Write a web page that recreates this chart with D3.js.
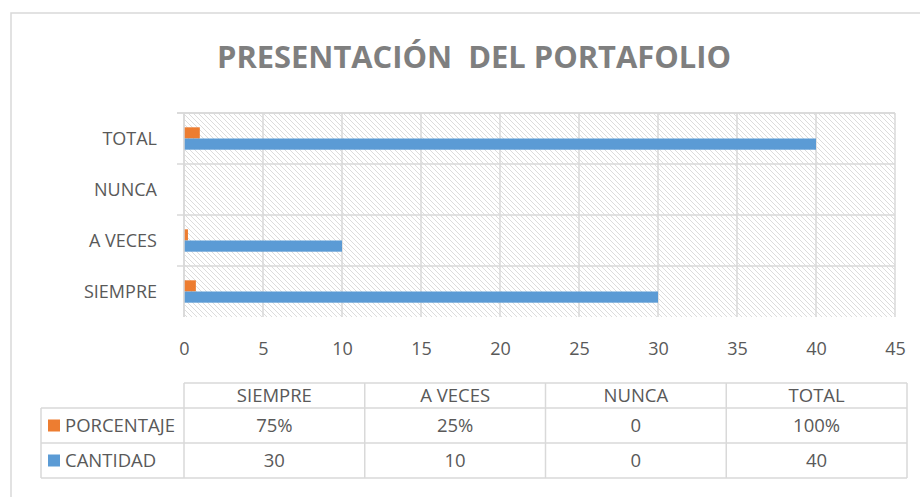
<!DOCTYPE html>
<html>

<head>
    <title>PRESENTACIÓN DEL PORTAFOLIO</title>
    <style>
        * {
            margin: 0;
            padding: 0;
        }

        body {
            background-color: #fff;
        }

        text {
            font-family: "Open Sans", "Noto Sans", sans-serif;
            fill: #595959;
        }
    </style>
    <script src="https://cdn.jsdelivr.net/npm/d3@7/dist/d3.min.js" type="text/javascript"></script>
</head>

<body>
    <div id="root"></div>

    <script>
        var categories = ["SIEMPRE", "A VECES", "NUNCA", "TOTAL"];
        var seriesNames = ["PORCENTAJE", "CANTIDAD"];
        var porcentaje = [0.75, 0.25, 0, 1];
        var cantidad = [30, 10, 0, 40];
        var porcentajeLabels = ["75%", "25%", "0", "100%"];
        var cantidadLabels = ["30", "10", "0", "40"];
        var xTicks = [0, 5, 10, 15, 20, 25, 30, 35, 40, 45];

        render("#root");

        function render(root) {
            var width = 920;
            var height = 497;
            var plot = { left: 184, right: 895, top: 113, bottom: 317 };
            var gridColor = "#d9d9d9";
            var colors = { PORCENTAJE: "#ed7d31", CANTIDAD: "#5b9bd5" };

            var svg = d3.select(root).append("svg").attr("width", width).attr("height", height);

            // hatch fill of the plot area
            var pattern = svg.append("defs").append("pattern")
                .attr("id", "hatch")
                .attr("patternUnits", "userSpaceOnUse")
                .attr("width", 5)
                .attr("height", 5);
            pattern.append("path")
                .attr("d", "M0,0 L5,5 M-1,4 L1,6 M4,-1 L6,1")
                .attr("stroke", "#dcdcdc")
                .attr("stroke-width", 1);

            // chart frame
            svg.append("rect")
                .attr("x", 11).attr("y", 13)
                .attr("width", 930).attr("height", 500)
                .attr("fill", "none")
                .attr("stroke", gridColor)
                .attr("stroke-width", 1.5);

            svg.append("text")
                .attr("x", 217)
                .attr("y", 68)
                .attr("textLength", 514)
                .attr("lengthAdjust", "spacingAndGlyphs")
                .style("font-size", "31px")
                .style("font-weight", "bold")
                .style("fill", "#7f7f7f")
                .text("PRESENTACIÓN  DEL PORTAFOLIO")
                .attr("xml:space", "preserve");

            var x = d3.scaleLinear().domain([0, 45]).range([plot.left, plot.right]);
            var y = d3.scaleBand().domain(categories).range([plot.bottom, plot.top]);
            var ySeries = d3.scaleBand().domain(seriesNames).range([0, y.bandwidth()]).paddingInner(0).paddingOuter(1.28);

            svg.append("rect")
                .attr("x", plot.left).attr("y", plot.top)
                .attr("width", plot.right - plot.left)
                .attr("height", plot.bottom - plot.top)
                .attr("fill", "url(#hatch)");

            function renderGrid() {
                var g = svg.append("g").attr("class", "grid");
                g.selectAll("line.v").data(xTicks).enter()
                    .append("line").attr("class", "v")
                    .attr("x1", function (d) { return x(d); })
                    .attr("x2", function (d) { return x(d); })
                    .attr("y1", plot.top)
                    .attr("y2", plot.bottom)
                    .attr("stroke", gridColor)
                    .attr("stroke-width", 1.5);

                var edges = categories.map(function (c) { return y(c); }).concat([plot.top]);
                g.selectAll("line.h").data(edges).enter()
                    .append("line").attr("class", "h")
                    .attr("x1", plot.left - 7)
                    .attr("x2", plot.right)
                    .attr("y1", function (d) { return d; })
                    .attr("y2", function (d) { return d; })
                    .attr("stroke", gridColor)
                    .attr("stroke-width", 1.5);
            }

            function renderXAxis() {
                var xAxis = d3.axisBottom(x).tickValues(xTicks).tickSize(0).tickPadding(0);
                var g = svg.append("g").attr("class", "x-axis")
                    .attr("transform", "translate(0, 349)")
                    .call(xAxis);
                g.select(".domain").remove();
                g.selectAll("text")
                    .attr("y", 0)
                    .attr("dy", "0.36em")
                    .attr("fill", null)
                    .style("font-size", "18px");
            }

            function renderYAxis() {
                var yAxis = d3.axisLeft(y).tickSize(0).tickPadding(27);
                var g = svg.append("g").attr("class", "y-axis")
                    .attr("transform", "translate(" + plot.left + ", 0)")
                    .call(yAxis);
                g.select(".domain").remove();
                g.selectAll("text")
                    .attr("fill", null)
                    .attr("dy", "0.36em")
                    .style("font-size", "18px");
            }

            function renderBars() {
                var rows = categories.map(function (c, i) {
                    return { category: c, PORCENTAJE: porcentaje[i], CANTIDAD: cantidad[i] };
                });
                var groups = svg.append("g").attr("class", "bars")
                    .selectAll("g").data(rows).enter()
                    .append("g")
                    .attr("transform", function (d) { return "translate(0," + y(d.category) + ")"; });

                groups.selectAll("rect")
                    .data(function (d) {
                        return seriesNames.map(function (s) { return { key: s, value: d[s] }; });
                    })
                    .enter().append("rect")
                    .attr("x", x(0))
                    .attr("y", function (d) { return ySeries(d.key); })
                    .attr("width", function (d) { return x(d.value) - x(0); })
                    .attr("height", ySeries.bandwidth())
                    .attr("fill", function (d) { return colors[d.key]; });

                // left axis line
                svg.append("line")
                    .attr("x1", plot.left).attr("x2", plot.left)
                    .attr("y1", plot.top).attr("y2", plot.bottom)
                    .attr("stroke", gridColor)
                    .attr("stroke-width", 1.5);
            }

            function renderTable() {
                var col = d3.scaleBand().domain(categories).range([184, 907]);
                var rowTop = [383, 408, 443, 478];
                var legendLeft = 41;
                var g = svg.append("g").attr("class", "data-table");

                var lines = [
                    [col.range()[0], rowTop[0], col.range()[1], rowTop[0]],
                    [legendLeft, rowTop[1], col.range()[1], rowTop[1]],
                    [legendLeft, rowTop[2], col.range()[1], rowTop[2]],
                    [legendLeft, rowTop[3], col.range()[1], rowTop[3]],
                    [legendLeft, rowTop[1], legendLeft, rowTop[3]],
                    [col.range()[1], rowTop[0], col.range()[1], rowTop[3]]
                ];
                categories.forEach(function (c) {
                    lines.push([col(c), rowTop[0], col(c), rowTop[3]]);
                });
                g.selectAll("line").data(lines).enter().append("line")
                    .attr("x1", function (d) { return d[0]; })
                    .attr("y1", function (d) { return d[1]; })
                    .attr("x2", function (d) { return d[2]; })
                    .attr("y2", function (d) { return d[3]; })
                    .attr("stroke", gridColor)
                    .attr("stroke-width", 1.5);

                var rowsText = [categories, porcentajeLabels, cantidadLabels];
                rowsText.forEach(function (row, r) {
                    var cy = (rowTop[r] + rowTop[r + 1]) / 2;
                    g.selectAll("text.r" + r).data(row).enter().append("text")
                        .attr("class", "r" + r)
                        .attr("x", function (d, i) { return col(categories[i]) + col.bandwidth() / 2; })
                        .attr("y", cy)
                        .attr("dy", "0.36em")
                        .attr("text-anchor", "middle")
                        .style("font-size", "18.5px")
                        .text(function (d) { return d; });
                });

                seriesNames.forEach(function (s, i) {
                    var cy = (rowTop[i + 1] + rowTop[i + 2]) / 2;
                    g.append("rect")
                        .attr("x", 48).attr("y", cy - 6)
                        .attr("width", 12).attr("height", 12)
                        .attr("fill", colors[s]);
                    g.append("text")
                        .attr("x", 65).attr("y", cy)
                        .attr("dy", "0.36em")
                        .style("font-size", "18.5px")
                        .text(s);
                });
            }

            renderGrid();
            renderBars();
            renderXAxis();
            renderYAxis();
            renderTable();
        }
    </script>
</body>

</html>
